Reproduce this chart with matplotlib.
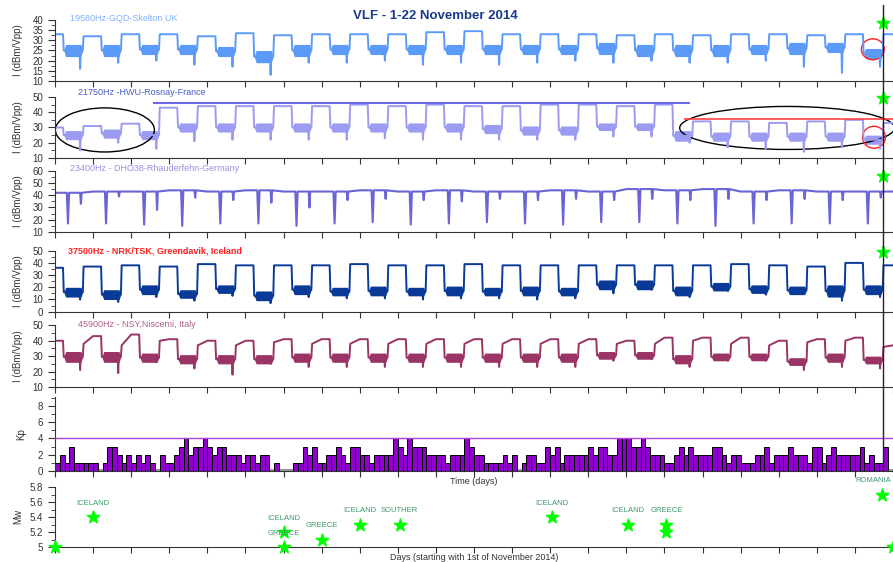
import matplotlib.pyplot as plt
from matplotlib.patches import Ellipse
from matplotlib.lines import Line2D
from matplotlib.ticker import MultipleLocator
import numpy as np

plt.rcParams['font.family'] = ['Liberation Sans', 'DejaVu Sans']

DAYS = 22
# time of day (fraction) of the sunrise drop, late-day dip and sunset rise
T_DROP = 0.21
T_DIP = 0.66
T_RISE = 0.73

# 19580Hz GQD - night plateau (23), daytime band hi/lo and dip (22)
gqd_night = [33, 32, 33, 33, 32, 33.5, 32.5, 33, 33, 33, 34, 34.5, 33, 33, 33,
             32.5, 33, 32.5, 33, 33, 32.5, 33, 33]
gqd_hi = [28, 28, 28, 28, 27, 25, 28, 28, 28, 28, 28, 28, 28, 28, 29, 28, 28, 28, 28, 29, 29, 26]
gqd_lo = [22, 22, 23, 23, 22, 19, 22, 23, 23, 23, 23, 23, 23, 23, 23, 22, 22, 22, 23, 23, 24, 21]
gqd_dip = [16, 19, 20, 18, 17, 13, 19, 19, 20, 18, 19, 18, 19, 20, 19, 20, 19, 19, 20, 17, 14, 17]

# 21750Hz HWU
hwu_night = [30, 31, 32.5, 43, 44, 44, 44, 44, 45, 44, 45, 44, 44, 45, 45, 44, 45,
             34, 34, 33, 34, 35, 33]
hwu_hi = [28, 29, 28, 33, 33, 33, 33, 33, 33, 33, 33, 32, 31, 31, 33, 33, 28, 27, 27, 27, 27, 25]
hwu_lo = [22, 23, 22, 27, 27, 27, 27, 27, 27, 27, 27, 26, 25, 25, 28, 28, 21, 21, 21, 21, 21, 19]
hwu_dip = [15, 20, 16, 21, 22, 22, 22, 22, 23, 22, 22, 22, 22, 22, 24, 24, 20, 17, 16, 14, 17, 16]

# 23400Hz DHO38 - base level, deep morning dip, small evening dip
dho_lvl = [42, 43, 43, 44, 43, 44, 43, 43, 44, 43, 44, 43, 43, 44, 43, 45, 44, 45, 43, 44, 43, 43]
dho_deep = [17, 17, 16, 15, 17, 17, 15, 17, 18, 16, 17, 18, 17, 16, 18, 18, 17, 15, 17, 17, 17, 17]
dho_small = [33, 39, 28, 38, 36, 34, 30, 36, 37, 36, 35, 37, 36, 37, 36, 37, 36, 37, 36, 37, 36, 38]

# 37500Hz NRK/TSK
nrk_night = [36, 37, 38, 37, 39, 38, 38, 38, 39, 38, 38, 39, 38, 38, 38,
             38, 38, 38, 39, 38, 37, 40, 38]
nrk_hi = [20, 18, 22, 18, 22, 17, 22, 20, 21, 20, 21, 20, 21, 20, 26, 26, 21, 24, 22, 21, 22, 22]
nrk_lo = [12, 10, 14, 11, 15, 9, 14, 13, 13, 13, 13, 13, 13, 13, 18, 18, 13, 17, 15, 14, 12, 14]
nrk_dip = [10, 8, 12, 9, 13, 7, 12, 11, 11, 10, 11, 11, 10, 11, 15, 18, 12, 17, 14, 15, 9, 12]

# 45900Hz NSY - night start / night peak, daytime band, dip
nsy_night_a = [40, 38, 37, 40, 37, 37, 39, 38, 38, 38, 38, 38, 38, 38, 38,
               38, 38, 40, 38, 37, 39, 40, 36]
nsy_night_b = [40, 43, 44, 41, 40, 40, 41, 41, 41, 41, 41, 41, 41, 41, 41,
               40, 42, 42, 42, 40, 41, 42, 37]
nsy_hi = [33, 33, 32, 31, 31, 31, 32, 32, 32, 32, 32, 32, 32, 32, 33, 33, 31, 32, 32, 29, 32, 30]
nsy_lo = [26, 26, 26, 25, 25, 25, 26, 26, 26, 26, 26, 26, 26, 26, 28, 28, 25, 27, 27, 24, 26, 25]
nsy_dip = [21, 19, 26, 22, 18, 25, 23, 23, 23, 23, 23, 23, 23, 23, 27, 28, 23, 27, 27, 21, 23, 22]

# Kp index, 3-hour values
kp = [1, 2, 1, 3, 1, 1, 1, 1, 1, 0,
      1, 3, 3, 2, 1, 2, 1, 2, 1, 2,
      1, 0, 2, 1, 1, 2, 3, 4, 2, 3,
      3, 4, 3, 2, 3, 3, 2, 2, 2, 1,
      2, 2, 1, 2, 2, 0, 1, 0, 0, 0,
      1, 1, 3, 2, 3, 1, 1, 2, 2, 3,
      2, 1, 3, 3, 2, 2, 1, 2, 2, 2,
      2, 4, 3, 2, 4, 3, 3, 3, 2, 2,
      2, 2, 1, 2, 2, 2, 4, 3, 2, 2,
      1, 1, 1, 1, 2, 1, 2, 0, 1, 2,
      2, 1, 1, 3, 2, 3, 1, 2, 2, 2,
      2, 2, 3, 2, 3, 3, 2, 2, 4, 4,
      4, 3, 3, 4, 3, 2, 2, 2, 1, 1,
      2, 3, 2, 3, 2, 2, 2, 2, 3, 3,
      2, 1, 2, 2, 1, 1, 1, 2, 2, 3,
      1, 2, 2, 2, 3, 2, 2, 2, 1, 3,
      3, 1, 2, 3, 2, 2, 2, 2, 2, 3,
      1, 2, 1, 1, 3]

# earthquakes
eq_day = [0.0, 1.0, 6.0, 6.0, 7.0, 8.0, 9.05, 13.05, 15.05, 16.05, 16.05, 21.7, 22.0]
eq_mw = [5.0, 5.4, 5.2, 5.0, 5.1, 5.3, 5.3, 5.4, 5.3, 5.3, 5.2, 5.7, 5.0]
eq_label = ['', 'ICELAND', 'ICELAND', 'GREECE', 'GREECE', 'ICELAND', 'SOUTHER',
            'ICELAND', 'ICELAND', 'GREECE', '', 'ROMANIA', '']

EVENT_DAY = 21.73


def draw_diurnal(ax, night_a, night_b, hi, lo, dip, color):
    xs, ys = [0.0], [night_b[0]]
    for d in range(len(hi)):
        s, e = d + T_DROP, d + T_RISE
        mid = (hi[d] + lo[d]) / 2
        xs += [s, s + 0.02, d + T_DIP - 0.015, d + T_DIP, d + T_DIP + 0.015, e, e + 0.02, d + 1.0]
        ys += [night_b[d], mid, mid, dip[d], mid, mid, night_a[d + 1], night_b[d + 1]]
        # noisy daytime band
        ax.fill_between([s + 0.02, s + 0.07, e - 0.05, e], [mid, lo[d], lo[d], mid],
                        [mid, hi[d], hi[d], mid], color=color, lw=0)
    xs.append(DAYS)
    ys.append(night_b[-1])
    ax.plot(xs, ys, color=color, lw=1.4)


def draw_dho(ax, lvl, deep, small, color):
    xs, ys = [], []
    for d in range(len(lvl)):
        xs += [d, d + 0.31, d + 0.34, d + 0.37, d + 0.66, d + 0.68, d + 0.70]
        ys += [lvl[d], lvl[d], deep[d], lvl[d], lvl[d], small[d], lvl[d]]
    xs.append(DAYS)
    ys.append(lvl[-1])
    ax.plot(xs, ys, color=color, lw=1.5)


def style_axis(ax, ylim, major, minor, ylabel):
    ax.set_xlim(0, DAYS)
    ax.set_ylim(*ylim)
    ax.xaxis.set_major_locator(MultipleLocator(1))
    ax.yaxis.set_major_locator(MultipleLocator(major))
    ax.yaxis.set_minor_locator(MultipleLocator(minor))
    ax.tick_params(axis='x', direction='out', length=4, labelbottom=False, color='#333')
    ax.tick_params(axis='y', which='major', direction='out', length=5, labelsize=7, colors='#333')
    ax.tick_params(axis='y', which='minor', direction='out', length=3, color='#333')
    for sp in ['top', 'right']:
        ax.spines[sp].set_visible(False)
    ax.spines['bottom'].set_color('#333')
    ax.spines['left'].set_color('#333')
    ax.set_ylabel(ylabel, fontsize=7, color='#333')
    ax.yaxis.set_label_coords(-0.038, 0.5)
    ax.patch.set_alpha(0)


fig = plt.figure(figsize=(8.93, 5.62), dpi=100)
L, W = 55 / 893, 838 / 893


def add_ax(top_px, bot_px):
    return fig.add_axes([L, 1 - bot_px / 562, W, (bot_px - top_px) / 562])


ax1 = add_ax(20, 81)
ax2 = add_ax(97, 158)
ax3 = add_ax(170.7, 232)
ax4 = add_ax(250.7, 311.7)
ax5 = add_ax(325.3, 387)
ax6 = add_ax(397, 471)
ax7 = add_ax(487, 547)

draw_diurnal(ax1, gqd_night, gqd_night, gqd_hi, gqd_lo, gqd_dip, '#5C9AF7')
style_axis(ax1, (10, 40), 5, 2.5, 'I (dBm/Vpp)')
ax1.text(0.018, 1.03, '19580Hz-GQD-Skelton UK', transform=ax1.transAxes,
         fontsize=6.5, color='#80B0FF', va='center')
ax1.add_patch(Ellipse((21.47, 25.6), 0.6, 10.3, ec='#FF2020', fc='none', lw=1))

draw_diurnal(ax2, hwu_night, hwu_night, hwu_hi, hwu_lo, hwu_dip, '#9B9BF2')
style_axis(ax2, (10, 50), 10, 5, 'I (dBm/Vpp)')
ax2.text(0.027, 1.066, '21750Hz -HWU-Rosnay-France', transform=ax2.transAxes,
         fontsize=6.5, color='#4A5BC8', va='center')
ax2.hlines(46, 2.57, 16.67, color='#6A6AE8', lw=1.5)
ax2.hlines(35.4, 16.5, 22, color='#FF4040', lw=1.2)
ax2.add_patch(Ellipse((1.31, 28.4), 2.6, 28.9, ec='black', fc='none', lw=1))
ax2.add_patch(Ellipse((19.22, 29.7), 5.64, 28.2, ec='black', fc='none', lw=1, clip_on=False))
ax2.add_patch(Ellipse((21.5, 23.6), 0.6, 14.4, ec='#FF2020', fc='none', lw=1))

draw_dho(ax3, dho_lvl, dho_deep, dho_small, '#6A64D4')
style_axis(ax3, (10, 60), 10, 5, 'I (dBm/Vpp)')
ax3.text(0.018, 1.044, '23400Hz - DHO38-Rhauderfehn-Germany', transform=ax3.transAxes,
         fontsize=6.5, color='#9A90E8', va='center')

draw_diurnal(ax4, nrk_night, nrk_night, nrk_hi, nrk_lo, nrk_dip, '#0A3A98')
style_axis(ax4, (0, 50), 10, 5, 'I (dBm/Vpp)')
ax4.text(0.0155, 0.995, '37500Hz - NRK/TSK, Greendavik, Iceland', transform=ax4.transAxes,
         fontsize=6.5, color='#FF2020', va='center', fontweight='bold')

draw_diurnal(ax5, nsy_night_a, nsy_night_b, nsy_hi, nsy_lo, nsy_dip, '#9A3466')
style_axis(ax5, (10, 50), 10, 5, 'I (dBm/Vpp)')
ax5.text(0.027, 1.02, '45900Hz - NSY,Niscemi, Italy', transform=ax5.transAxes,
         fontsize=6.5, color='#B0608A', va='center')

# Kp panel
kp_x = np.arange(len(kp)) / 8
ax6.axhline(0.1, color='#999999', lw=1.5, zorder=1)
ax6.bar(kp_x, kp, width=0.125, align='edge', color='#9000D0', edgecolor='black', lw=0.7, zorder=2)
ax6.axhline(4, color='#B040E0', lw=1, zorder=3)
style_axis(ax6, (0, 9.1), 2, 1, 'Kp')
ax6.yaxis.set_label_coords(-0.034, 0.5)
ax6.set_xlabel('Time (days)', fontsize=6.5, color='#333', labelpad=0)

# Mw panel
ax7.scatter(eq_day, eq_mw, marker='*', s=90, color='#00FF00', clip_on=False, zorder=3)
for x, y, t in zip(eq_day, eq_mw, eq_label):
    if t:
        dx = -6 if t == 'ROMANIA' else 0
        ax7.annotate(t, (x, y), xytext=(dx, 10), textcoords='offset points', ha='center',
                     va='center', fontsize=5.5, color='#3A9A6A')
style_axis(ax7, (5, 5.8), 0.2, 0.1, 'Mw')
ax7.set_yticks([5, 5.2, 5.4, 5.6, 5.8])
ax7.set_yticklabels(['5', '5.2', '5.4', '5.6', '5.8'])
ax7.set_xlabel('Days (starting with 1st of November 2014)', fontsize=6.5, color='#333', labelpad=0)

# event markers on the VLF panels
for ax, v in [(ax1, 38.5), (ax2, 49.3), (ax3, 55.7), (ax4, 49)]:
    ax.scatter([EVENT_DAY], [v], marker='*', s=90, color='#00FF00', clip_on=False, zorder=4)

xf = fig.transFigure.inverted().transform(ax1.transData.transform((EVENT_DAY, 0)))[0]
fig.add_artist(Line2D([xf, xf], [1 - 5 / 562, 1 - 470 / 562], color='#222', lw=1))

fig.text(0.487, 1 - 16 / 562, 'VLF - 1-22 November 2014', ha='center', va='center',
         fontsize=9.5, fontweight='bold', color='#1A3A8A')

fig.savefig('out.png', dpi=100)
